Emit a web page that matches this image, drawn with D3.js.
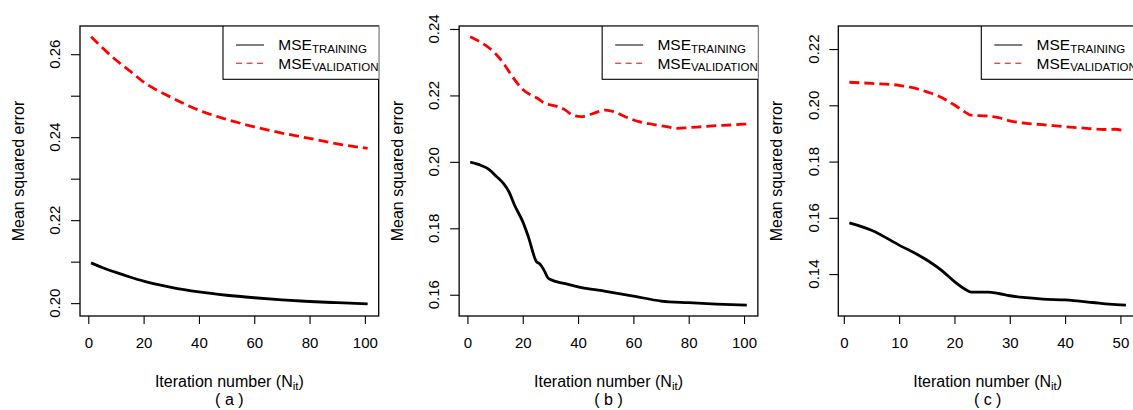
<!DOCTYPE html>
<html>
<head>
<meta charset="UTF-8">
<title>MSE vs iteration number</title>
<script src="https://d3js.org/d3.v7.min.js"></script>
<style>
  body { margin: 0; background: #fff; }
  svg { display: block; font-family: "Liberation Sans", Arial, sans-serif; }
</style>
</head>
<body>
<svg width="1133" height="410"></svg>
<script>
// values

// (a)
var iterA  = [1, 5, 10, 15, 20, 30, 40, 50, 60, 70, 80, 90, 101];
var trainA = [0.2097, 0.2086, 0.2074, 0.2063, 0.2053, 0.2038, 0.2027, 0.2019, 0.2013, 0.2008, 0.2004, 0.2001, 0.1998];
var validA = [0.2642, 0.2616, 0.2586, 0.2560, 0.2533, 0.2496, 0.2465, 0.2443, 0.2425, 0.2410, 0.2397, 0.2384, 0.2373];

// (b)
var iterTrainB = [1, 5, 8, 10, 13, 15, 17, 20, 22, 25, 26, 28, 29, 30, 35, 40, 50, 60, 70, 80, 90, 101];
var trainB = [0.1999, 0.1989, 0.1976, 0.1960, 0.1935, 0.1910, 0.1870, 0.1820, 0.1775, 0.1699, 0.1694, 0.1669, 0.1652, 0.1646, 0.1634, 0.1624, 0.1610, 0.1596, 0.1581, 0.1576, 0.1572, 0.1569];
var iterValidB = [1, 5, 8, 10, 13, 15, 18, 20, 23, 25, 28, 32, 35, 38, 41, 45, 48, 50, 53, 57, 62, 67, 72, 76, 80, 85, 90, 95, 101];
var validB = [0.2377, 0.2359, 0.2342, 0.2327, 0.2297, 0.2272, 0.2237, 0.2218, 0.2201, 0.2193, 0.2176, 0.2168, 0.2158, 0.2141, 0.2136, 0.2144, 0.2153, 0.2156, 0.2151, 0.2136, 0.2121, 0.2113, 0.2106, 0.2101, 0.2103, 0.2106, 0.2109, 0.2111, 0.2114];

// (c)
var iterTrainC = [1, 5, 10, 15, 18, 20, 22, 23, 26, 28, 30, 33, 36, 40, 45, 48, 51];
var trainC = [0.1582, 0.1556, 0.1503, 0.1450, 0.1408, 0.1373, 0.1345, 0.1336, 0.1336, 0.1331, 0.1323, 0.1316, 0.1311, 0.1308, 0.1299, 0.1293, 0.1290];
var iterValidC = [1, 5, 10, 13, 15, 17, 20, 22, 23, 26, 28, 30, 33, 36, 40, 44, 47, 49, 51];
var validC = [0.2082, 0.2078, 0.2071, 0.2060, 0.2048, 0.2034, 0.2001, 0.1975, 0.1965, 0.1962, 0.1956, 0.1945, 0.1936, 0.1931, 0.1924, 0.1918, 0.1914, 0.1915, 0.1908];

// axis limits and ticks
var xLimA = [-3, 105], yLimA = [0.1969, 0.2668];
var xLimB = [-3, 105], yLimB = [0.1536, 0.2409];
var xLimC = [-1, 53],  yLimC = [0.1251, 0.2282];
var xTicksA = [0, 20, 40, 60, 80, 100];
var xTicksC = [0, 10, 20, 30, 40, 50];
var yTicksA = [0.20, 0.21, 0.22, 0.23, 0.24, 0.25, 0.26];
var yLabelsA = [0.20, 0.22, 0.24, 0.26];
var yTicksB = [0.16, 0.18, 0.20, 0.22, 0.24];
var yTicksC = [0.14, 0.16, 0.18, 0.20, 0.22];
var panelNames = ["a", "b", "c"];

var panels = [
  {name: panelNames[0], xt: iterA, tr: trainA, xv: iterA, va: validA, xLim: xLimA, yLim: yLimA, xTicks: xTicksA, yTicks: yTicksA, yLabels: yLabelsA},
  {name: panelNames[1], xt: iterTrainB, tr: trainB, xv: iterValidB, va: validB, xLim: xLimB, yLim: yLimB, xTicks: xTicksA, yTicks: yTicksB, yLabels: yTicksB},
  {name: panelNames[2], xt: iterTrainC, tr: trainC, xv: iterValidC, va: validC, xLim: xLimC, yLim: yLimC, xTicks: xTicksC, yTicks: yTicksC, yLabels: yTicksC}
];

var svg = d3.select("svg");
var step = 379.15, plotLeft = 80, plotW = 298.7, plotTop = 26, plotBottom = 316;
var fmt = d3.format(".2f");

panels.forEach(function(p, i) {
  var x0 = i * step + plotLeft;
  var g = svg.append("g");
  var x = d3.scaleLinear().domain(p.xLim).range([x0, x0 + plotW]);
  var y = d3.scaleLinear().domain(p.yLim).range([plotBottom, plotTop]);

  var clipId = "clip" + i;
  svg.append("clipPath").attr("id", clipId)
    .append("rect").attr("x", x0).attr("y", plotTop).attr("width", plotW).attr("height", plotBottom - plotTop);

  // x axis ticks + labels
  var xa = g.append("g").attr("transform", "translate(0," + plotBottom + ")")
    .call(d3.axisBottom(x).tickValues(p.xTicks).tickSize(8).tickPadding(13).tickFormat(d3.format("d")));
  xa.select(".domain").remove();
  xa.selectAll("line").attr("stroke", "#000").attr("stroke-width", 1.1);
  xa.selectAll("text").attr("font-size", "15px").attr("font-family", null).attr("fill", "#000");

  // y axis ticks
  var ya = g.append("g").attr("transform", "translate(" + x0 + ",0)")
    .call(d3.axisLeft(y).tickValues(p.yTicks).tickSize(9).tickFormat(""));
  ya.select(".domain").remove();
  ya.selectAll("line").attr("stroke", "#000").attr("stroke-width", 1.1);

  g.selectAll(".ylab").data(p.yLabels).enter().append("text")
    .attr("transform", function(d) { return "translate(" + (x0 - 25) + "," + y(d) + ") rotate(-90)"; })
    .attr("text-anchor", "middle").attr("dy", "0.35em")
    .attr("font-size", "15px")
    .text(function(d) { return fmt(d); });

  // lines
  var line = d3.line().curve(d3.curveMonotoneX);
  g.append("path")
    .attr("d", line(p.xt.map(function(d, k) { return [x(d), y(p.tr[k])]; })))
    .attr("fill", "none").attr("stroke", "#000").attr("stroke-width", 2.8);
  g.append("path")
    .attr("d", line(p.xv.map(function(d, k) { return [x(d), y(p.va[k])]; })))
    .attr("fill", "none").attr("stroke", "#ff0000").attr("stroke-width", 2.8)
    .attr("stroke-dasharray", "10,5");

  // plot box
  g.append("rect").attr("x", x0).attr("y", plotTop).attr("width", plotW).attr("height", plotBottom - plotTop)
    .attr("fill", "none").attr("stroke", "#000").attr("stroke-width", 1.3);

  // legend (clipped at plot region)
  var lg = g.append("g").attr("clip-path", "url(#" + clipId + ")");
  var lx = x0 + 143;
  lg.append("rect").attr("x", lx).attr("y", plotTop).attr("width", 160).attr("height", 53.3)
    .attr("fill", "#fff").attr("stroke", "#000").attr("stroke-width", 1.1);
  var items = [["TRAINING", "#000", null, 45], ["VALIDATION", "#ff0000", "6,4.5", 63.3]];
  items.forEach(function(it) {
    lg.append("line").attr("x1", lx + 13).attr("x2", lx + 41).attr("y1", it[3]).attr("y2", it[3])
      .attr("stroke", it[1]).attr("stroke-width", 1.1).attr("stroke-dasharray", it[2]);
    var t = lg.append("text").attr("x", lx + 55.3).attr("y", it[3] + 5.2).attr("font-size", "15.5px");
    t.append("tspan").text("MSE");
    t.append("tspan").attr("font-size", "11.5px").attr("dy", 2.5).text(it[0]);
  });

  // axis titles
  var cx = x0 + plotW / 2;
  var xt = g.append("text").attr("x", cx).attr("y", 386.5).attr("text-anchor", "middle").attr("font-size", "16px");
  xt.append("tspan").text("Iteration number (N");
  xt.append("tspan").attr("font-size", "11.5px").attr("dy", 3).text("it");
  xt.append("tspan").attr("dy", -3).text(")");
  g.append("text").attr("x", cx).attr("y", 405).attr("text-anchor", "middle").attr("font-size", "16px")
    .text("( " + p.name + " )");
  g.append("text")
    .attr("transform", "translate(" + (x0 - 56) + "," + ((plotTop + plotBottom) / 2) + ") rotate(-90)")
    .attr("text-anchor", "middle").attr("font-size", "16px")
    .text("Mean squared error");
});
</script>
</body>
</html>
